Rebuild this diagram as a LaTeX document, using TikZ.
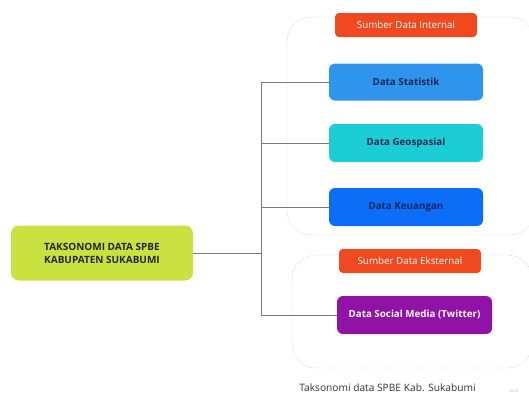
\documentclass[tikz,border=0pt]{standalone}
\usepackage{fontspec}
\setmainfont{Open Sans}
\usetikzlibrary{positioning}
\definecolor{lime}{HTML}{C9E23F}
\definecolor{statblue}{HTML}{2F95EC}
\definecolor{geoteal}{HTML}{1DCDD5}
\definecolor{keublue}{HTML}{0C6DF7}
\definecolor{srcred}{HTML}{F0481F}
\definecolor{socpurple}{HTML}{9012A6}
\definecolor{navy}{HTML}{16285A}
\definecolor{wire}{HTML}{7A7A7A}
\begin{document}
\begin{tikzpicture}[x=1pt,y=-1pt,font=\fontsize{10}{12}\selectfont,line join=round,line cap=round]
	\tikzset{box/.style={rounded corners=6pt,minimum width=154pt,minimum height=38pt,align=center,font=\fontsize{9.8}{12}\selectfont\bfseries},
		srcbox/.style={rounded corners=4pt,fill=srcred,text=white,minimum width=142pt,minimum height=24pt,font=\fontsize{9.8}{12}\selectfont},
		group/.style={draw=black!25,densely dotted,rounded corners=24pt},
		wire/.style={draw=wire,line width=0.6pt}}
	\useasboundingbox (0,0) rectangle (529,400);
	% groups
	\draw[group] (287,17) rectangle (534,235);
	\draw[group] (292,255) rectangle (532,368);
	% nodes
	\node[box,fill=lime,text=black!85,minimum width=182pt,minimum height=55pt,rounded corners=8pt,font=\fontsize{10}{13}\selectfont\bfseries] (main) at (102,253) {TAKSONOMI DATA SPBE\\KABUPATEN SUKABUMI};
	\node[srcbox] (internal) at (406,25) {Sumber Data Internal};
	\node[box,fill=statblue,text=navy,minimum height=37pt] (stat) at (406,82) {Data Statistik};
	\node[box,fill=geoteal,text=navy] (geo) at (406,143) {Data Geospasial};
	\node[box,fill=keublue,text=navy] (keu) at (406,207) {Data Keuangan};
	\node[srcbox] (external) at (410,261) {Sumber Data Eksternal};
	\node[box,fill=socpurple,text=white,minimum width=155pt] (soc) at (414.5,315) {Data Social Media (Twitter)};
	\node[font=\fontsize{10.2}{12}\selectfont,text=black!80] (caption) at (387.5,388) {Taksonomi data SPBE Kab. Sukabumi};
	\node[font=\fontsize{4}{5}\selectfont,text=black!25,anchor=west] (mark) at (506,391) {miro};
	% connectors
	\draw[wire] (main.east) -- ++(68,0) coordinate (hub);
	\draw[wire] (hub |- stat.west) -- (hub |- soc.west);
	\foreach \n in {stat,geo,keu,soc}
	\draw[wire] (hub |- \n.west) -- (\n.west);
\end{tikzpicture}
\end{document}
